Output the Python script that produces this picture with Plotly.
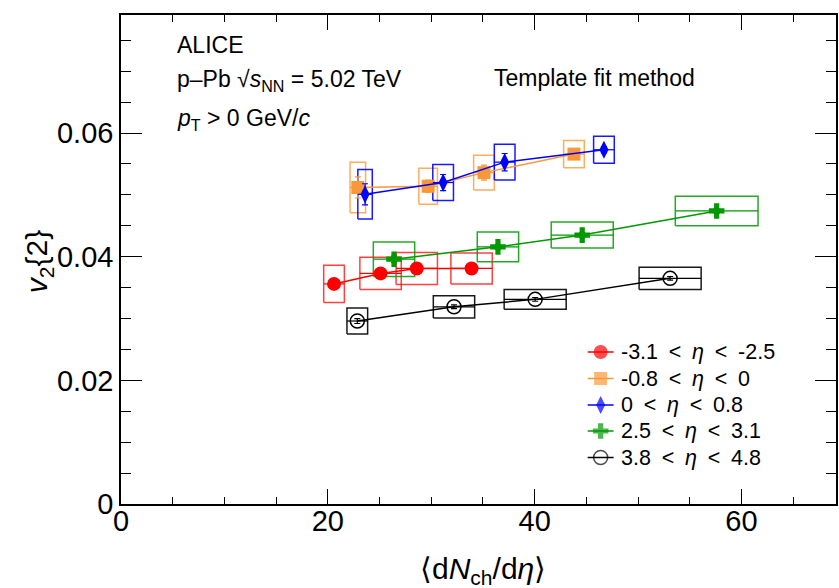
import plotly.graph_objects as go

# ---------------- data ----------------
series_names = ["-3.1\u2002<\u2002<i>\u03b7</i>\u2002<\u2002-2.5",
                "-0.8\u2002<\u2002<i>\u03b7</i>\u2002<\u20020",
                "0\u2002<\u2002<i>\u03b7</i>\u2002<\u20020.8",
                "2.5\u2002<\u2002<i>\u03b7</i>\u2002<\u20023.1",
                "3.8\u2002<\u2002<i>\u03b7</i>\u2002<\u20024.8"]

red_x = [20.6, 25.1, 28.6, 33.9]
red_y = [0.0356, 0.0373, 0.0381, 0.0381]
red_stat = [0.0008, 0.0006, 0.0005, 0.0005]
red_sx = [1.0, 2.0, 2.0, 2.0]
red_sy = [0.0030, 0.0026, 0.0026, 0.0025]

orange_x = [22.9, 29.7, 35.1, 43.8]
orange_y = [0.0512, 0.0514, 0.0536, 0.0566]
orange_stat = [0.0017, 0.0010, 0.0012, 0.0006]
orange_sx = [0.75, 0.9, 1.0, 1.0]
orange_sy = [0.0041, 0.0029, 0.0028, 0.0022]

blue_x = [23.6, 31.15, 37.1, 46.7]
blue_y = [0.0501, 0.0520, 0.0553, 0.0573]
blue_stat = [0.0017, 0.0013, 0.0014, 0.0005]
blue_sx = [0.7, 1.0, 1.0, 1.0]
blue_sy = [0.0040, 0.0029, 0.0029, 0.0022]

green_x = [26.4, 36.45, 44.6, 57.6]
green_y = [0.0396, 0.0416, 0.0435, 0.0474]
green_stat = [0.0005, 0.0004, 0.0004, 0.0004]
green_sx = [2.0, 2.0, 3.0, 4.0]
green_sy = [0.0028, 0.0024, 0.0021, 0.0024]

black_x = [22.85, 32.2, 40.05, 53.1]
black_y = [0.0296, 0.0319, 0.0331, 0.0365]
black_stat = [0.0004, 0.0003, 0.0003, 0.0003]
black_sx = [1.0, 2.0, 3.0, 3.0]
black_sy = [0.0021, 0.0018, 0.0016, 0.0018]

x_tick_vals = [0, 20, 40, 60]
y_tick_vals = [0, 0.02, 0.04, 0.06]

# ---------------- styles ----------------
styles = [
    dict(x=red_x, y=red_y, stat=red_stat, sx=red_sx, sy=red_sy, color="#ff0000",
         boxcolor="rgba(255,0,0,0.75)", symbol="circle", size=14, lw=0),
    dict(x=orange_x, y=orange_y, stat=orange_stat, sx=orange_sx, sy=orange_sy, color="#fa9838",
         boxcolor="rgba(250,152,56,0.8)", symbol="square", size=13, lw=0),
    dict(x=blue_x, y=blue_y, stat=blue_stat, sx=blue_sx, sy=blue_sy, color="#0000ff",
         boxcolor="rgba(0,0,255,0.9)", symbol="diamond-tall", size=13, lw=0),
    dict(x=green_x, y=green_y, stat=green_stat, sx=green_sx, sy=green_sy, color="#009900",
         boxcolor="rgba(0,153,0,0.85)", symbol="cross", size=13, lw=0),
    dict(x=black_x, y=black_y, stat=black_stat, sx=black_sx, sy=black_sy, color="#000000",
         boxcolor="rgba(0,0,0,0.9)", symbol="circle-open", size=14, lw=1.5),
]

fig = go.Figure()

# systematic boxes
for st in styles:
    bx, by = [], []
    for xi, yi, dx, dy in zip(st["x"], st["y"], st["sx"], st["sy"]):
        bx += [xi - dx, xi + dx, xi + dx, xi - dx, xi - dx, None]
        by += [yi - dy, yi - dy, yi + dy, yi + dy, yi - dy, None]
    fig.add_trace(go.Scatter(x=bx, y=by, mode="lines",
                             line=dict(color=st["boxcolor"], width=1.5),
                             showlegend=False, hoverinfo="skip"))

# data points
for st, name in zip(styles, series_names):
    fig.add_trace(go.Scatter(
        x=st["x"], y=st["y"], mode="lines+markers", name=name,
        line=dict(color=st["color"], width=1.5),
        marker=dict(symbol=st["symbol"], size=st["size"], color=st["color"],
                    line=dict(width=st["lw"], color=st["color"])),
        error_y=dict(type="data", array=st["stat"], color=st["color"], thickness=1.2, width=3),
        error_x=dict(type="data", array=st["sx"], color=st["color"], thickness=1.2, width=0),
        showlegend=False, hoverinfo="skip"))

# ---------------- manual legend (pixel-coordinate overlay axes) ----------------
L, R, T, B = 121, 838, 15, 504
leg_y = [352, 378.5, 405, 431, 457.5]
for st, name, yc in zip(styles, series_names, leg_y):
    fig.add_trace(go.Scatter(
        x=[589, 602, 615], y=[yc, yc, yc], xaxis="x2", yaxis="y2",
        mode="lines+markers", line=dict(color=st["color"], width=1.5),
        marker=dict(symbol=st["symbol"], size=[0, st["size"], 0], color=st["color"],
                    line=dict(width=st["lw"], color=st["color"])),
        showlegend=False, hoverinfo="skip"))


def px(xp):
    return (xp - L) / (R - L)


def py(yp):
    return (B - yp) / (B - T)


FONT = "Liberation Sans, Arial, Helvetica, sans-serif"
ann = []
for name, yc in zip(series_names, leg_y):
    ann.append(dict(text=name, x=px(620), y=py(yc), xanchor="left", yanchor="middle",
                    font=dict(size=21.5)))
ann.append(dict(text="ALICE", x=px(175), y=py(45), xanchor="left", yanchor="middle",
                font=dict(size=23)))
ann.append(dict(text="p\u2013Pb \u221a<i>s</i><sub>NN</sub> = 5.02 TeV", x=px(175), y=py(80),
                xanchor="left", yanchor="middle", font=dict(size=23)))
ann.append(dict(text="<i>p</i><sub>T</sub> > 0 GeV/<i>c</i>", x=px(175), y=py(120),
                xanchor="left", yanchor="middle", font=dict(size=23)))
ann.append(dict(text="Template fit method", x=px(493), y=py(78), xanchor="left",
                yanchor="middle", font=dict(size=23)))
ann.append(dict(text="\u27e8d<i>N</i><sub>ch</sub>/d<i>\u03b7</i>\u27e9", x=px(484), y=py(570),
                xanchor="center", yanchor="middle", font=dict(size=30)))
ann.append(dict(text="<i>v</i><sub>2</sub>{2}", x=px(38), y=py(262), xanchor="center",
                yanchor="middle", textangle=-90, font=dict(size=30)))
for a in ann:
    a.update(xref="paper", yref="paper", showarrow=False)
    a["font"].update(family=FONT, color="black")

axis_common = dict(showline=True, linecolor="black", linewidth=1.5, mirror="ticks",
                   ticks="inside", tickcolor="black", tickwidth=1.2, showgrid=False,
                   zeroline=False, tickfont=dict(family=FONT, size=29, color="black"))

W, H = 839, 588
fig.update_layout(
    width=W, height=H,
    margin=dict(l=L, r=W - R, t=T, b=H - B, pad=0),
    paper_bgcolor="white", plot_bgcolor="white",
    showlegend=False,
    hovermode=False,
    font=dict(family=FONT, color="black"),
    xaxis=dict(range=[0, 69.14], tickvals=x_tick_vals, ticklen=15, ticklabelstandoff=-10,
               minor=dict(dtick=5, ticklen=7.5, ticks="inside", tickcolor="black", tickwidth=1.2),
               **axis_common),
    yaxis=dict(range=[0, 0.0791], tickvals=y_tick_vals, ticklen=21,
               minor=dict(dtick=0.005, ticklen=10.5, ticks="inside", tickcolor="black", tickwidth=1.2),
               **axis_common),
    xaxis2=dict(overlaying="x", range=[L, R], visible=False, anchor="y2"),
    yaxis2=dict(overlaying="y", range=[B, T], visible=False, anchor="x2"),
    annotations=ann,
)

fig.write_html("out.html", config={"displayModeBar": False},
               post_script="document.body.style.margin='0';document.body.style.overflow='hidden';")
